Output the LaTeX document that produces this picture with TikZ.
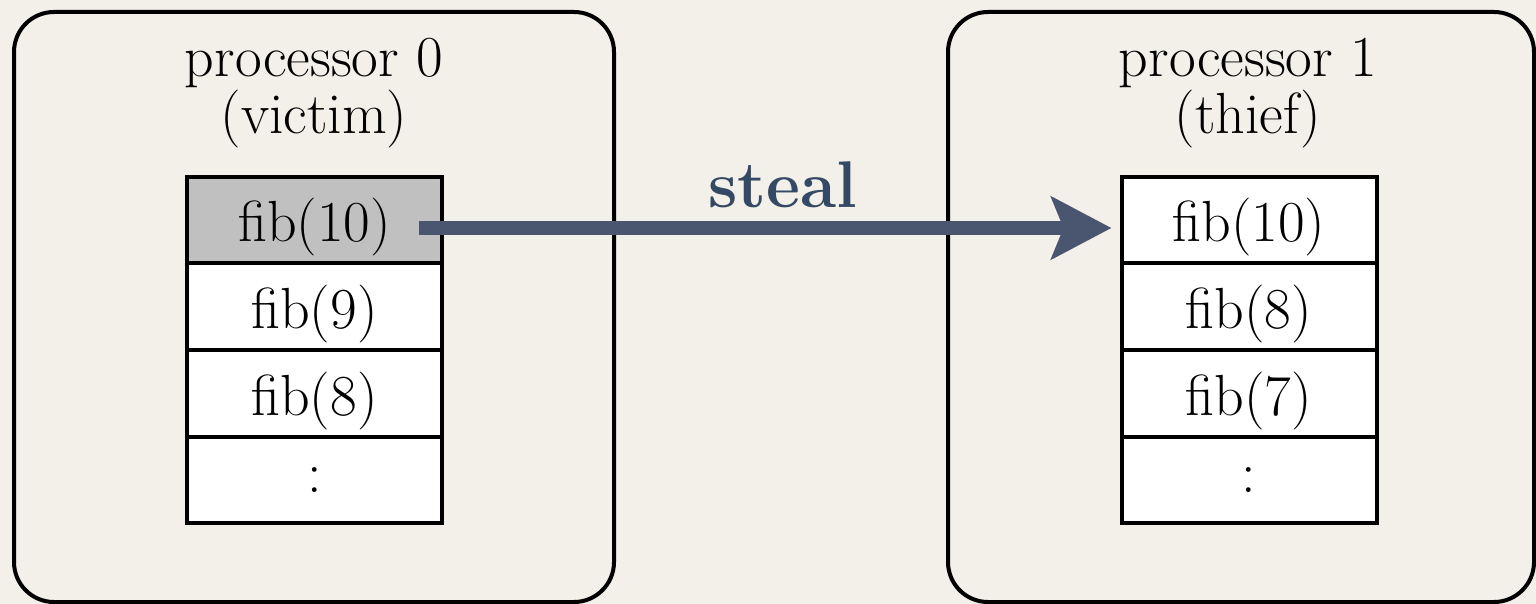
\documentclass[tikz,border=0pt]{standalone}
\usetikzlibrary{arrows.meta,calc}
\definecolor{bgcol}{RGB}{243,240,234}
\definecolor{cellgray}{RGB}{192,192,192}
\definecolor{arrowcol}{RGB}{74,86,112}
\definecolor{stealcol}{RGB}{52,73,100}
\tikzset{
  procbox/.style={draw=black, line width=2pt, rounded corners=20pt},
  cell/.style={draw=black, line width=2pt, fill=white, minimum width=127.5pt, minimum height=43.25pt, inner sep=0pt, text depth=0pt, font=\fontsize{29}{31}\selectfont},
  graycell/.style={cell, fill=cellgray},
  title/.style={align=center, font=\fontsize{29}{26.5}\selectfont, inner sep=0pt},
  stealarrow/.style={draw=arrowcol, line width=7pt, -{Stealth[length=30pt,width=31pt,inset=6pt]}},
  steallabel/.style={text=stealcol, font=\fontsize{33}{35}\selectfont\bfseries, inner sep=0pt}
}
\begin{document}
\begin{tikzpicture}[x=0.5pt,y=-0.5pt]
\useasboundingbox (0,0) rectangle (1536,604);
\fill[bgcol] (0,0) rectangle (1536,604);
\begin{scope}
\clip (0,0) rectangle (1536,604);
\node[procbox, minimum width=300pt, minimum height=295pt, inner sep=0pt] (p0) at (314,307) {};
\node[procbox, minimum width=293pt, minimum height=295pt, inner sep=0pt] (p1) at (1241,307) {};
\end{scope}
\node[title] (t0) at (314,93) {processor 0\\(victim)};
\node[title] (t1) at (1248,93) {processor 1\\(thief)};
% left stack
\node[graycell] (l1) at (314.5,220) {fib(10)};
\node[cell] (l2) at (314.5,306.5) {fib(9)};
\node[cell] (l3) at (314.5,393.5) {fib(8)};
\node[cell] (l4) at (314.5,480) {:};
% right stack
\node[cell] (r1) at (1249,220) {fib(10)};
\node[cell] (r2) at (1249,306.5) {fib(8)};
\node[cell] (r3) at (1249,393.5) {fib(7)};
\node[cell] (r4) at (1249,480) {:};
% arrow
\draw[stealarrow] ([xshift=-12.5pt,yshift=-4pt]l1.east) -- ([xshift=-4pt,yshift=-4pt]r1.west);
\node[steallabel] (st) at (783,185) {steal};
\end{tikzpicture}
\end{document}
